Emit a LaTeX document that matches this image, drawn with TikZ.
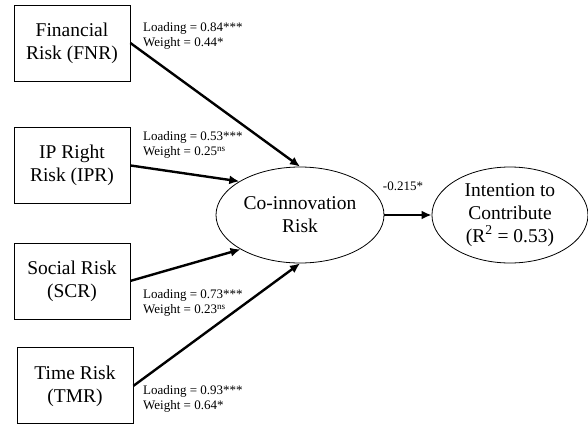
\documentclass[tikz,border=0pt]{standalone}
\usepackage{fontspec}
\setmainfont{Liberation Serif}
\usepackage{tikz}
\usetikzlibrary{shapes.geometric, arrows.meta}
\newcommand{\boxfont}{\fontsize{19.5}{23}\selectfont}
\newcommand{\statfont}{\fontsize{13}{15}\selectfont}
\tikzstyle{risk} = [font=\boxfont, rectangle, minimum width=116pt, minimum height=76pt, align=center, draw=black, line width=0.8pt]
\tikzstyle{construct} = [font=\boxfont, ellipse, minimum height=96pt, inner sep=0pt, align=center, draw=black, line width=0.8pt]
\tikzstyle{stat} = [font=\statfont, anchor=west, align=left, inner sep=0pt]
\tikzstyle{arrow} = [line width=2.4pt,->,>={Latex[length=10pt, width=9pt]}]

\begin{document}
\begin{tikzpicture}[x=1pt, y=1pt]
  \useasboundingbox (0,0) rectangle (588,-423);
  \node (FNR) [risk] at (72,-43) {Financial\\Risk (FNR)};
  \node (IPR) [risk, below of=FNR, yshift=-94pt] {IP Right\\Risk (IPR)};
  \node (SCR) [risk, below of=IPR, yshift=-87pt] {Social Risk\\(SCR)};
  \node (TMR) [risk, below of=SCR, xshift=3pt, yshift=-76.5pt] {Time Risk\\(TMR)};
  \node (CIR) [construct, minimum width=168pt] at (300,-215) {Co-innovation\\Risk};
  \node (ITC) [construct, minimum width=156pt, right of=CIR, xshift=181.5pt] {Intention to\\Contribute\\(R\textsuperscript{2} = 0.53)};
  \node (FNR_stat) [stat] at (143,-36) {Loading = 0.84***\\Weight = 0.44*};
  \node (IPR_stat) [stat] at (143,-145) {Loading = 0.53***\\Weight = 0.25\textsuperscript{ns}};
  \node (SCR_stat) [stat] at (143,-303) {Loading = 0.73***\\Weight = 0.23\textsuperscript{ns}};
  \node (TMR_stat) [stat] at (143,-399) {Loading = 0.93***\\Weight = 0.64*};
  \draw[arrow](FNR.east) -- (CIR.north);
  \draw[arrow](IPR.east) -- (CIR.151);
  \draw[arrow](SCR.east) -- (CIR.210);
  \draw[arrow](TMR.east) -- (CIR.south);
  \draw[arrow](CIR) -- node [font=\statfont, above, xshift=-5pt, yshift=20pt]{-0.215*} (ITC);
\end{tikzpicture}
\end{document}
